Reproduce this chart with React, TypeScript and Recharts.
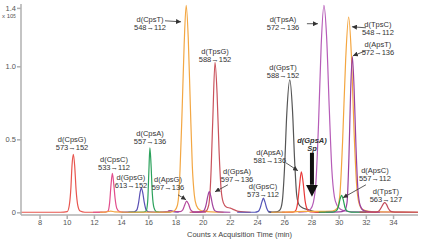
import { LineChart, Line, XAxis, YAxis, ReferenceDot, ReferenceLine } from "recharts"

type Pt = [number, number]

// retention time (min), counts (x10^5)
const cpsG: Pt[] = [[6.6, 0.004], [9.5, 0.004], [10.0, 0.008], [10.15, 0.05], [10.27, 0.17], [10.35, 0.32], [10.45, 0.4], [10.55, 0.32], [10.65, 0.16], [10.78, 0.05], [10.95, 0.012], [11.3, 0.004], [12.6, 0.004]]
const cpsC: Pt[] = [[11.9, 0.004], [12.8, 0.005], [13.0, 0.012], [13.12, 0.07], [13.22, 0.19], [13.32, 0.27], [13.42, 0.2], [13.52, 0.1], [13.65, 0.03], [13.85, 0.008], [14.2, 0.004], [14.8, 0.004]]
const gpsG: Pt[] = [[14.0, 0.004], [14.9, 0.006], [15.12, 0.02], [15.25, 0.07], [15.36, 0.14], [15.45, 0.17], [15.55, 0.14], [15.67, 0.07], [15.8, 0.02], [16.0, 0.006], [16.8, 0.004], [17.4, 0.008], [17.6, 0.015], [17.8, 0.008], [18.2, 0.004]]
const cpsA: Pt[] = [[14.5, 0.004], [15.6, 0.005], [15.8, 0.012], [15.92, 0.08], [16.0, 0.27], [16.08, 0.445], [16.16, 0.34], [16.26, 0.13], [16.38, 0.035], [16.55, 0.008], [17.0, 0.004], [17.6, 0.004]]
const apsG: Pt[] = [[16.8, 0.004], [17.3, 0.006], [17.55, 0.015], [17.75, 0.01], [18.3, 0.008], [18.5, 0.02], [18.65, 0.055], [18.78, 0.08], [18.92, 0.06], [19.08, 0.02], [19.3, 0.006], [20.2, 0.004]]
const cpsT: Pt[] = [[12.4, 0.004], [12.9, 0.006], [13.2, 0.012], [13.5, 0.006], [14.5, 0.004], [17.6, 0.005], [17.9, 0.015], [18.1, 0.05], [18.2, 0.12], [18.3, 0.3], [18.45, 0.7], [18.6, 1.15], [18.75, 1.42], [18.9, 1.2], [19.05, 0.75], [19.2, 0.32], [19.35, 0.12], [19.5, 0.05], [19.75, 0.02], [20.1, 0.01], [20.6, 0.006], [21.5, 0.004]]
const tpsG: Pt[] = [[19.0, 0.004], [19.8, 0.006], [20.2, 0.012], [20.4, 0.05], [20.55, 0.22], [20.7, 0.62], [20.87, 1.03], [21.02, 0.82], [21.17, 0.42], [21.32, 0.16], [21.48, 0.07], [21.7, 0.04], [22.0, 0.032], [22.3, 0.02], [22.6, 0.01], [23.5, 0.004]]
const gpsA: Pt[] = [[19.2, 0.004], [19.8, 0.006], [20.05, 0.015], [20.2, 0.05], [20.33, 0.11], [20.45, 0.145], [20.57, 0.11], [20.7, 0.05], [20.85, 0.015], [21.1, 0.006], [22.0, 0.004]]
const gpsC: Pt[] = [[22.5, 0.004], [23.8, 0.004], [24.05, 0.01], [24.2, 0.035], [24.32, 0.075], [24.43, 0.1], [24.54, 0.075], [24.66, 0.035], [24.8, 0.01], [25.1, 0.004], [26.0, 0.004]]
const gpsT: Pt[] = [[24.8, 0.004], [25.4, 0.006], [25.65, 0.02], [25.82, 0.08], [25.98, 0.3], [26.15, 0.68], [26.37, 0.91], [26.57, 0.7], [26.73, 0.35], [26.88, 0.12], [27.05, 0.055], [27.3, 0.035], [27.7, 0.022], [28.1, 0.01], [28.6, 0.004]]
const apsA: Pt[] = [[25.8, 0.004], [26.6, 0.005], [26.8, 0.015], [26.95, 0.07], [27.08, 0.18], [27.22, 0.28], [27.36, 0.2], [27.5, 0.08], [27.68, 0.02], [27.9, 0.006], [29.0, 0.004]]
const tpsA: Pt[] = [[27.0, 0.004], [27.6, 0.008], [27.9, 0.025], [28.1, 0.07], [28.3, 0.22], [28.48, 0.6], [28.68, 1.15], [28.88, 1.42], [29.08, 1.2], [29.28, 0.7], [29.46, 0.3], [29.65, 0.11], [29.85, 0.05], [30.1, 0.025], [30.5, 0.012], [31.2, 0.006], [35.8, 0.004]]
const tpsC: Pt[] = [[25.0, 0.004], [26.5, 0.006], [27.5, 0.01], [28.5, 0.01], [29.5, 0.012], [29.85, 0.03], [30.05, 0.12], [30.25, 0.48], [30.48, 1.05], [30.7, 1.34], [30.9, 1.08], [31.1, 0.55], [31.28, 0.2], [31.45, 0.07], [31.7, 0.025], [32.2, 0.01], [33.0, 0.006], [35.8, 0.004]]
const apsT: Pt[] = [[29.0, 0.004], [30.0, 0.006], [30.4, 0.015], [30.58, 0.07], [30.72, 0.38], [30.85, 0.85], [30.97, 1.07], [31.1, 0.85], [31.24, 0.45], [31.38, 0.16], [31.55, 0.05], [31.8, 0.015], [32.3, 0.006], [33.0, 0.004]]
const apsC: Pt[] = [[28.5, 0.004], [29.5, 0.005], [29.8, 0.015], [29.95, 0.045], [30.06, 0.09], [30.18, 0.12], [30.3, 0.09], [30.42, 0.04], [30.58, 0.012], [30.9, 0.005], [32.0, 0.004]]
const tpsT: Pt[] = [[31.5, 0.004], [32.7, 0.005], [32.95, 0.015], [33.12, 0.04], [33.25, 0.062], [33.36, 0.07], [33.48, 0.058], [33.62, 0.03], [33.8, 0.01], [34.1, 0.005], [35.8, 0.004]]

const traces = [
  { key: "CpsG", color: "#e8554e", pts: cpsG },
  { key: "CpsC", color: "#e24d8c", pts: cpsC },
  { key: "GpsG", color: "#5a50b4", pts: gpsG },
  { key: "CpsA", color: "#2ca25c", pts: cpsA },
  { key: "ApsG", color: "#b4479c", pts: apsG },
  { key: "CpsT", color: "#f3a743", pts: cpsT },
  { key: "TpsG", color: "#c9525c", pts: tpsG },
  { key: "GpsA", color: "#a2449e", pts: gpsA },
  { key: "GpsC", color: "#5656b8", pts: gpsC },
  { key: "GpsT", color: "#555555", pts: gpsT },
  { key: "ApsA", color: "#e83a3a", pts: apsA },
  { key: "TpsA", color: "#b65cb8", pts: tpsA },
  { key: "TpsC", color: "#f4a640", pts: tpsC },
  { key: "ApsT", color: "#9a3f9e", pts: apsT },
  { key: "ApsC", color: "#22a052", pts: apsC },
  { key: "TpsT", color: "#c24a5a", pts: tpsT },
]

const xTicks = [8, 10, 12, 14, 16, 18, 20, 22, 24, 26, 28, 30, 32, 34]
const yTicks = [0, 0.5, 1.0, 1.4]

// peak labels: name, transition, position (time, counts)
const labels = [
  { top: "d(CpsG)", bottom: "573→152", t: 10.35, v: 0.479 },
  { top: "d(CpsC)", bottom: "533→112", t: 13.44, v: 0.336 },
  { top: "d(GpsG)", bottom: "613→152", t: 14.69, v: 0.219 },
  { top: "d(CpsA)", bottom: "557→136", t: 16.09, v: 0.514 },
  { top: "d(ApsG)", bottom: "597→136", t: 17.41, v: 0.199 },
  { top: "d(CpsT)", bottom: "548→112", t: 16.09, v: 1.301 },
  { top: "d(TpsG)", bottom: "588→152", t: 20.87, v: 1.082 },
  { top: "d(GpsA)", bottom: "597→136", t: 22.49, v: 0.26 },
  { top: "d(GpsC)", bottom: "573→112", t: 24.4, v: 0.151 },
  { top: "d(ApsA)", bottom: "581→136", t: 24.9, v: 0.39 },
  { top: "d(GpsT)", bottom: "588→152", t: 25.87, v: 0.966 },
  { top: "d(TpsA)", bottom: "572→136", t: 25.87, v: 1.295 },
  { top: "d(TpsC)", bottom: "548→112", t: 32.85, v: 1.267 },
  { top: "d(ApsT)", bottom: "572→136", t: 32.85, v: 1.13 },
  { top: "d(ApsC)", bottom: "557→112", t: 32.63, v: 0.267 },
  { top: "d(TpsT)", bottom: "563→127", t: 33.44, v: 0.123 },
]

const arrows: [Pt, Pt][] = [
  [[17.19, 1.315], [18.37, 1.308]],
  [[18.15, 0.123], [18.74, 0.089]],
  [[21.82, 0.192], [20.87, 0.144]],
  [[26.09, 0.342], [26.97, 0.288]],
  [[27.63, 1.295], [28.44, 1.295]],
  [[31.97, 1.267], [30.94, 1.274]],
  [[31.97, 1.11], [31.01, 1.075]],
  [[31.97, 0.192], [30.28, 0.103]],
]

const spArrow: [Pt, Pt] = [[28.0, 0.411], [28.0, 0.192]]

const font = "'Liberation Sans', Arial, sans-serif"

const twoLine = (top: string, bottom: string, bold = false) => (p: any) => (
  <g>
    <text x={p.cx} y={p.cy - 1.3} textAnchor="middle" fontSize={7.5} fill="#333" fontFamily={font}
      fontWeight={bold ? "bold" : "normal"} fontStyle={bold ? "italic" : "normal"}>{top}</text>
    <text x={p.cx} y={p.cy + 6.7} textAnchor="middle" fontSize={7.5} fill="#333" fontFamily={font}
      fontWeight={bold ? "bold" : "normal"} fontStyle={bold ? "italic" : "normal"}>{bottom}</text>
  </g>
)

export default function App() {
  return (
    <div style={{ position: "absolute", left: 0, top: 0, width: 422, height: 240, background: "#fff" }}>
      <svg width={0} height={0} style={{ position: "absolute" }}>
        <defs>
          <marker id="head" viewBox="0 0 6 6" markerWidth={5} markerHeight={5} refX={6} refY={3}
            orient="auto" markerUnits="userSpaceOnUse">
            <path d="M0,0 L6,3 L0,6 z" fill="#333" />
          </marker>
          <marker id="bigHead" viewBox="0 0 12 12" markerWidth={12} markerHeight={12} refX={0} refY={6}
            orient="auto" markerUnits="userSpaceOnUse">
            <path d="M0,0 L12,6 L0,12 z" fill="#111" />
          </marker>
        </defs>
      </svg>
      <div style={{ position: "absolute", left: 2, top: 13, fontSize: 6, lineHeight: "7px", color: "#555", fontFamily: font }}>
        x 10<sup style={{ fontSize: 4.5, verticalAlign: "top" }}>5</sup>
      </div>
      <LineChart width={422} height={240} margin={{ top: 4, right: 4, left: 0, bottom: 0 }}>
        <XAxis
          type="number"
          dataKey="t"
          domain={[6.6, 35.8]}
          ticks={xTicks}
          allowDataOverflow
          height={25}
          tickSize={4}
          tickMargin={1}
          stroke="#b0b0b0"
          strokeWidth={1.5}
          tick={{ fill: "#555", fontSize: 7.5, fontFamily: font }}
          label={{ value: "Counts x Acquisition Time (min)", position: "insideBottom", offset: 3, dx: 20, fontSize: 7.5, fill: "#444", fontFamily: font }}
        />
        <YAxis
          type="number"
          domain={[-0.015, 1.43]}
          ticks={yTicks}
          allowDataOverflow
          width={21}
          tickSize={4}
          tickMargin={1}
          stroke="#b0b0b0"
          strokeWidth={1.5}
          tick={{ fill: "#555", fontSize: 7.5, fontFamily: font }}
          tickFormatter={(v: number) => (v === 0 ? "0" : v.toFixed(1))}
        />
        {traces.map((tr) => (
          <Line
            key={tr.key}
            data={tr.pts.map(([t, v]) => ({ t, v }))}
            dataKey="v"
            type="monotone"
            stroke={tr.color}
            strokeWidth={1.2}
            dot={false}
            activeDot={false}
            isAnimationActive={false}
          />
        ))}
        {arrows.map(([a, b], i) => (
          <ReferenceLine key={"a" + i} segment={[{ x: a[0], y: a[1] }, { x: b[0], y: b[1] }]}
            stroke="#333" strokeWidth={0.8} markerEnd="url(#head)" ifOverflow="visible" />
        ))}
        <ReferenceLine segment={[{ x: spArrow[0][0], y: spArrow[0][1] }, { x: spArrow[1][0], y: spArrow[1][1] }]}
          stroke="#111" strokeWidth={4} markerEnd="url(#bigHead)" ifOverflow="visible" />
        {labels.map((l, i) => (
          <ReferenceDot key={"l" + i} x={l.t} y={l.v} r={0} ifOverflow="visible" shape={twoLine(l.top, l.bottom)} />
        ))}
        <ReferenceDot x={28.0} y={0.466} r={0} ifOverflow="visible" shape={twoLine("d(GpsA)", "Sp", true)} />
      </LineChart>
    </div>
  )
}
